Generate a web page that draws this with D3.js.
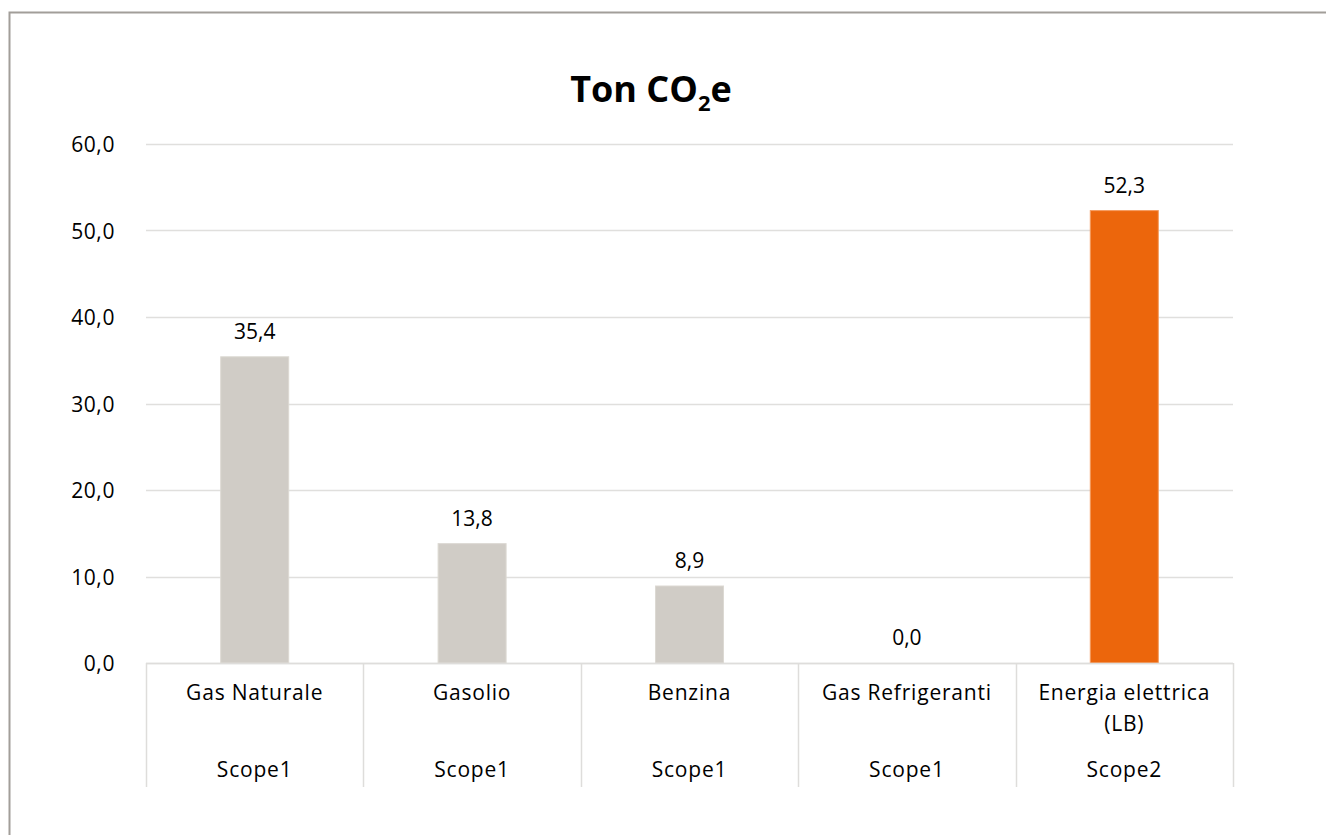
<!DOCTYPE html>
<html>
<head>
<meta charset="utf-8">
<script src="https://cdn.jsdelivr.net/npm/d3@7"></script>
<style>
  html, body { margin: 0; padding: 0; background: #fff; }
  svg { display: block; font-family: "Open Sans", "Noto Sans", sans-serif; }
</style>
</head>
<body>
<svg id="chart" width="1326" height="835"></svg>
<script>
// Emission sources, their scope group and tonnes of CO2e
const categories = ["Gas Naturale", "Gasolio", "Benzina", "Gas Refrigeranti", "Energia elettrica (LB)"];
const scopes = ["Scope1", "Scope1", "Scope1", "Scope1", "Scope2"];
const values = [35.4, 13.8, 8.9, 0.0, 52.3];
const barColors = ["#d0ccc6", "#d0ccc6", "#d0ccc6", "#d0ccc6", "#ec660c"];
const yTicks = [0, 10, 20, 30, 40, 50, 60];

const svg = d3.select("#chart");
const W = 1326, H = 835;
const margin = { left: 146, right: 1233, top: 144, bottom: 663 };
const FS = 21;

const fmt = v => d3.format(".1f")(v).replace(".", ",");

// Outer frame: left and top edges
svg.append("path")
  .attr("d", `M9.5,${H} L9.5,12.5 L${W},12.5`)
  .attr("fill", "none")
  .attr("stroke", "#a29e99")
  .attr("stroke-width", 2);

const x = d3.scaleBand()
  .domain(categories)
  .range([margin.left, margin.right])
  .paddingInner(0)
  .paddingOuter(0);

const y = d3.scaleLinear()
  .domain([0, 60])
  .range([margin.bottom, margin.top]);

// Horizontal gridlines
svg.append("g")
  .selectAll("line")
  .data(yTicks)
  .join("line")
  .attr("x1", margin.left)
  .attr("x2", margin.right)
  .attr("y1", d => Math.round(y(d)) + 0.5)
  .attr("y2", d => Math.round(y(d)) + 0.5)
  .attr("stroke", "#e0dfdd")
  .attr("stroke-width", 1.5);

// Y axis tick labels
svg.append("g")
  .selectAll("text")
  .data(yTicks)
  .join("text")
  .attr("x", 115)
  .attr("y", d => y(d) + 8)
  .attr("text-anchor", "end")
  .attr("font-size", FS)
  .attr("letter-spacing", 0.6)
  .attr("fill", "#000")
  .text(d => fmt(d));

// Bars
const barW = 68;
svg.append("g")
  .selectAll("rect")
  .data(values)
  .join("rect")
  .attr("x", (d, i) => x(categories[i]) + x.bandwidth() / 2 - barW / 2)
  .attr("width", barW)
  .attr("y", d => y(d))
  .attr("height", d => y(0) - y(d))
  .attr("fill", (d, i) => barColors[i])
  .attr("stroke", (d, i) => i === 4 ? "#f49a5c" : "#dcd9d3")
  .attr("stroke-width", (d, i) => d > 0 ? 1 : 0);

// Value labels above bars
svg.append("g")
  .selectAll("text")
  .data(values)
  .join("text")
  .attr("x", (d, i) => x(categories[i]) + x.bandwidth() / 2)
  .attr("y", d => y(d) - 18)
  .attr("text-anchor", "middle")
  .attr("font-size", FS)
  .attr("fill", "#000")
  .text(d => fmt(d));

// Multi-level category axis: baseline and separators
const axisG = svg.append("g");
axisG.append("line")
  .attr("x1", margin.left).attr("x2", margin.right)
  .attr("y1", margin.bottom + 0.5).attr("y2", margin.bottom + 0.5)
  .attr("stroke", "#dedddb").attr("stroke-width", 1.5);

const bounds = categories.map(c => x(c)).concat([margin.right]);
axisG.selectAll("line.sep")
  .data(bounds)
  .join("line")
  .attr("class", "sep")
  .attr("x1", d => Math.round(d) + 0.5)
  .attr("x2", d => Math.round(d) + 0.5)
  .attr("y1", margin.bottom)
  .attr("y2", 787)
  .attr("stroke", "#dedddb")
  .attr("stroke-width", 1.5);

// Category labels (wrapped where needed)
const catLines = {
  "Energia elettrica (LB)": ["Energia elettrica", "(LB)"]
};
categories.forEach((c, i) => {
  const lines = catLines[c] || [c];
  const t = axisG.append("text")
    .attr("x", x(c) + x.bandwidth() / 2)
    .attr("y", 700)
    .attr("text-anchor", "middle")
    .attr("font-size", FS)
    .attr("letter-spacing", 0.8)
    .attr("fill", "#000");
  lines.forEach((ln, k) => {
    t.append("tspan")
      .attr("x", x(c) + x.bandwidth() / 2)
      .attr("dy", k === 0 ? 0 : 31)
      .text(ln);
  });
});

// Scope labels
axisG.selectAll("text.scope")
  .data(scopes)
  .join("text")
  .attr("class", "scope")
  .attr("x", (d, i) => x(categories[i]) + x.bandwidth() / 2)
  .attr("y", 777)
  .attr("text-anchor", "middle")
  .attr("font-size", FS)
  .attr("letter-spacing", 0.8)
  .attr("fill", "#000")
  .text(d => d);

// Title with subscript
const title = svg.append("text")
  .attr("x", 651)
  .attr("y", 102)
  .attr("text-anchor", "middle")
  .attr("font-size", 36)
  .attr("font-weight", "bold")
  .attr("fill", "#000");
title.append("tspan").text("Ton CO");
title.append("tspan").attr("font-size", 22).attr("dy", 9).text("2");
title.append("tspan").attr("dy", -9).text("e");
</script>
</body>
</html>
